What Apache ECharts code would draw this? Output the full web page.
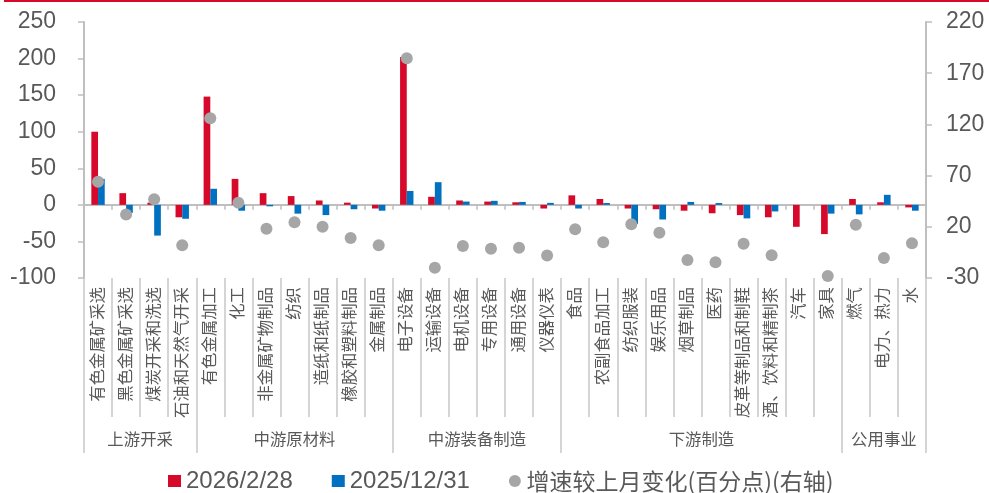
<!DOCTYPE html>
<html>
<head>
<meta charset="utf-8">
<script src="https://cdn.jsdelivr.net/npm/echarts@6/dist/echarts.min.js"></script>
<style>
html,body{margin:0;padding:0;background:#fff;}
#wrap{position:relative;width:989px;height:493px;}
#topline{position:absolute;left:4px;right:0;top:0;height:2px;background:#D7092A;z-index:2;}
#chart{position:absolute;left:0;top:0;width:989px;height:493px;}
</style>
</head>
<body>
<div id="wrap"><div id="topline"></div><div id="chart"></div></div>
<script>
const categories = ['有色金属矿采选','黑色金属矿采选','煤炭开采和洗选','石油和天然气开采',
  '有色金属加工','化工','非金属矿物制品','纺织','造纸和纸制品','橡胶和塑料制品','金属制品',
  '电子设备','运输设备','电机设备','专用设备','通用设备','仪器仪表',
  '食品','农副食品加工','纺织服装','娱乐用品','烟草制品','医药','皮革等制品和制鞋','酒、饮料和精制茶','汽车','家具',
  '燃气','电力、热力','水'];
const groupNames = ['上游开采','中游原材料','中游装备制造','下游制造','公用事业'];
const groupSizes = [4,7,6,10,3];
const seriesNames = ['2026/2/28','2025/12/31','增速较上月变化(百分点)(右轴)'];
const values2026 = [100,16,3,-17,148,35.5,16,12,6,3,-5,202,11,6,4.5,3.5,-5,13,8,-5,-6,-8,-11.5,-14,-17,-30,-40,8,3.5,-3.5];
const values2025 = [35.5,-11,-42,-19,22,-8,-2,-12,-14,-6,-8,19,31,4.5,5.5,4,2.7,-5,2.5,-26,-20,4,2.5,-18.5,-9,0,-12,-13,13.7,-8];
const changeValues = [64,32,47,2,126,43.5,18,24.4,20,9,2,184.6,-20,1.3,-1.4,-0.4,-8,17.6,5,22.4,14.3,-12.4,-14.6,3.5,-7.8,null,-28,22,-10.5,4];
const leftTicks = [-100,-50,0,50,100,150,200,250];
const rightTicks = [-30,20,70,120,170,220];

// group boundaries and centers derived from group sizes
const groupBounds = [0];
groupSizes.forEach(s => groupBounds.push(groupBounds[groupBounds.length-1] + s));
const groupCenters = groupSizes.map((s,i) => groupBounds[i] + s/2);

const FONT = "'Liberation Sans', 'Noto Sans CJK SC', sans-serif";
const CJK = "'Noto Sans CJK SC', sans-serif";
const TXT = '#595959';
const AX = '#BFBFBF';

const chart = echarts.init(document.getElementById('chart'), null, {renderer:'canvas'});
chart.setOption({
  animation:false,
  textStyle:{fontFamily:FONT},
  grid:{left:84,right:63,top:22,bottom:215,containLabel:false,outerBoundsMode:'none'},
  legend:{
    left:163, top:464, itemGap:39, itemWidth:13, itemHeight:12,
    textStyle:{fontSize:24,color:TXT,fontFamily:FONT,
      rich:{c:{fontSize:23,lineHeight:24,color:TXT,fontFamily:CJK}}},
    formatter:function(n){return n===seriesNames[2]?'{c|'+n+'}':n;},
    data:[{name:seriesNames[0],icon:'rect'},{name:seriesNames[1],icon:'rect'},{name:seriesNames[2],icon:'circle'}]
  },
  xAxis:[
    {type:'category',data:categories,position:'bottom',
     axisLine:{onZero:true,onZeroAxisIndex:0,lineStyle:{color:AX,width:2}},
     axisTick:{show:true,length:5,interval:0,lineStyle:{color:AX,width:1.5}},
     axisLabel:{show:false},splitLine:{show:false}},
    {type:'category',data:categories,position:'bottom',
     axisLine:{show:false,onZero:false},
     axisTick:{show:true,length:139,interval:0,lineStyle:{color:'#C8C8C8',width:1.5}},
     axisLabel:{show:true,interval:0,rotate:90,margin:9,fontSize:16.4,color:TXT,fontFamily:FONT},
     splitLine:{show:false}},
    {type:'value',min:0,max:categories.length,position:'bottom',
     axisLine:{show:false,onZero:false},
     axisTick:{show:true,length:175,customValues:groupBounds,lineStyle:{color:'#C8C8C8',width:1.5}},
     axisLabel:{show:true,customValues:groupCenters,margin:154,fontSize:16.4,color:TXT,fontFamily:FONT,
       formatter:function(v){const i=groupCenters.indexOf(v);return i>=0?groupNames[i]:'';}},
     splitLine:{show:false}}
  ],
  yAxis:[
    {type:'value',position:'left',min:-100,max:250,interval:50,
     axisLine:{show:true,onZero:false,lineStyle:{color:AX,width:2}},
     axisTick:{show:true,length:6,lineStyle:{color:AX,width:1.5}},
     axisLabel:{fontSize:23,color:TXT,margin:28,fontFamily:FONT},
     splitLine:{show:false}},
    {type:'value',position:'right',min:-30,max:220,
     axisLine:{show:true,onZero:false,lineStyle:{color:AX,width:2}},
     axisTick:{show:true,length:6,customValues:rightTicks,lineStyle:{color:AX,width:1.5}},
     axisLabel:{fontSize:23,color:TXT,margin:20,customValues:rightTicks,fontFamily:FONT},
     splitLine:{show:false}}
  ],
  series:[
    {name:seriesNames[0],type:'bar',xAxisIndex:0,yAxisIndex:0,data:values2026,barWidth:6.7,barGap:'0%',
     itemStyle:{color:'#D7092A'}},
    {name:seriesNames[1],type:'bar',xAxisIndex:0,yAxisIndex:0,data:values2025,barWidth:6.7,barGap:'0%',
     itemStyle:{color:'#0070C0'}},
    {name:seriesNames[2],type:'scatter',xAxisIndex:0,yAxisIndex:1,data:changeValues,symbol:'circle',symbolSize:12,
     itemStyle:{color:'#A6A6A6',opacity:1},z:5}
  ]
});
</script>
</body>
</html>
